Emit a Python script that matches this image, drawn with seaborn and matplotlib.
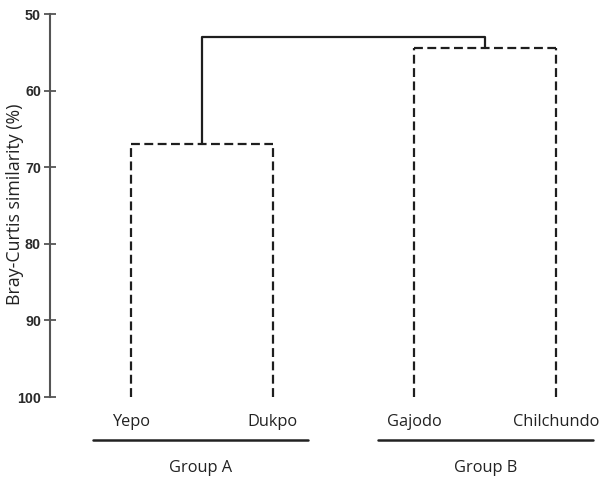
import matplotlib
matplotlib.use('Agg')
import matplotlib.pyplot as plt
import seaborn as sns
import pandas as pd

# Datos del dendrograma
sitios = ['Yepo', 'Dukpo', 'Gajodo', 'Chilchundo']
grupos = ['Group A', 'Group B']
similitud_grupo_a = 67.0    # union Yepo - Dukpo
similitud_grupo_b = 54.5    # union Gajodo - Chilchundo
similitud_total = 53.0      # union de los dos grupos
similitud_hojas = 100.0
ticks_y = [50, 60, 70, 80, 90, 100]

sns.set_style('white')
plt.rcParams['font.family'] = ['Open Sans', 'DejaVu Sans']

fig = plt.figure(figsize=(6.03, 4.82), dpi=100)
ax = fig.add_axes([0.0829, 0.1763, 0.917, 0.7946])

pos = list(range(len(sitios)))
color = '#1e1e1e'
guiones = (4, 2)


def segmento(xs, ys, discontinua):
    df = pd.DataFrame({'x': xs, 'y': ys})
    sns.lineplot(data=df, x='x', y='y', sort=False, ax=ax, color=color,
                 linewidth=1.6, estimator=None)
    if discontinua:
        ax.lines[-1].set_dashes(guiones)


# Ramas de cada grupo (discontinuas)
ramas = [
    (pos[0], pos[1], similitud_grupo_a),
    (pos[2], pos[3], similitud_grupo_b),
]
centros = []
for x1, x2, h in ramas:
    segmento([x1, x1], [similitud_hojas, h], True)
    segmento([x1, x2], [h, h], True)
    segmento([x2, x2], [similitud_hojas, h], True)
    centros.append(((x1 + x2) / 2, h))

# Union superior (continua)
(ca, ha), (cb, hb) = centros
segmento([ca, ca, cb, cb], [ha, similitud_total, similitud_total, hb], False)

ax.set_xlim(-0.572, 3.33)
ax.set_ylim(100, 50)
ax.set_yticks(ticks_y)
ax.set_yticklabels([str(t) for t in ticks_y], fontweight='bold',
                   family='Liberation Sans', fontsize=10.3, color='#2a2a2a')
ax.tick_params(axis='y', left=True, direction='inout', length=9, width=1.3,
               color='#555555', pad=2)
ax.set_xticks([])
for lado in ['top', 'right', 'bottom']:
    ax.spines[lado].set_visible(False)
ax.spines['left'].set_color('#555555')
ax.spines['left'].set_linewidth(1.5)
ax.set_xlabel('')
ax.set_ylabel('Bray-Curtis similarity (%)', fontsize=12.8, color='#222222')
ax.yaxis.set_label_coords(-0.047, 0.504)

# Etiquetas de sitios
for x, nombre in zip(pos, sitios):
    ax.text(x, 103.3, nombre, ha='center', va='center', fontsize=11.8,
            color='#222222', clip_on=False)

# Lineas y etiquetas de grupos
limites = [(-0.268, 1.249), (1.743, 3.261)]
for (a, b), g in zip(limites, grupos):
    ax.plot([a, b], [105.6, 105.6], color='#222222', linewidth=1.8,
            clip_on=False)
    ax.text((a + b) / 2, 109.3, g, ha='center', va='center', fontsize=11.8,
            color='#222222', clip_on=False)

fig.savefig('out.png', dpi=100)
